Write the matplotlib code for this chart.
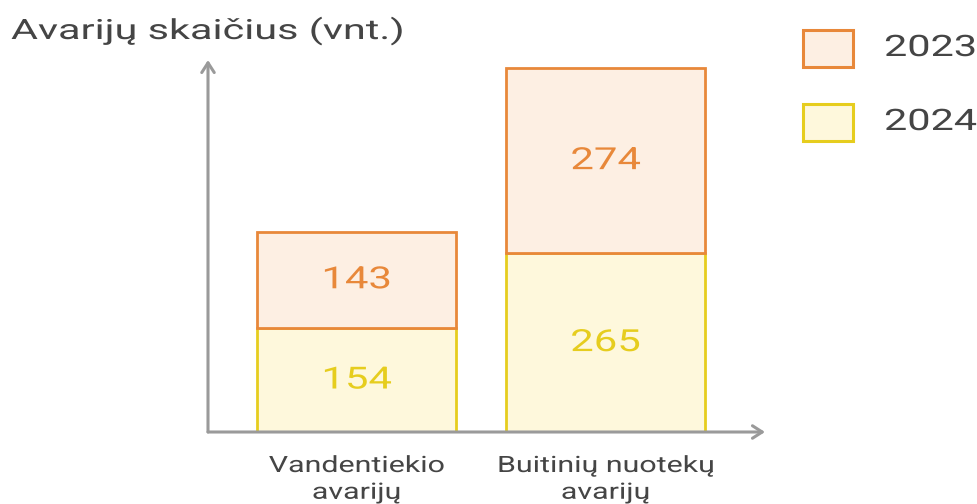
import matplotlib
matplotlib.use("Agg")
import matplotlib.pyplot as plt
from matplotlib.patches import Rectangle
from matplotlib.patheffects import AbstractPathEffect
from matplotlib.transforms import Affine2D

plt.rcParams['font.family'] = ['Roboto', 'DejaVu Sans']

categories = ["Vandentiekio\navarijų", "Buitinių nuotekų\navarijų"]
series_names = ["2023", "2024"]
values_2024 = [154, 265]
values_2023 = [143, 274]

orange_edge = "#E8883A"
orange_fill = "#FDEFE3"
yellow_edge = "#E6CD1E"
yellow_fill = "#FEF8DC"
text_col = "#454545"
axis_col = "#9A9A9A"

W, H = 978, 504
fig = plt.figure(figsize=(W / 100, H / 100), dpi=100)


class HStretch(AbstractPathEffect):
    """Horizontally widen rendered glyphs about a display-x anchor."""
    def __init__(self, sx, x0):
        super().__init__()
        self.sx = sx
        self.x0 = x0

    def draw_path(self, renderer, gc, tpath, affine, rgbFace=None):
        t = affine + Affine2D().translate(-self.x0, 0).scale(self.sx, 1).translate(self.x0, 0)
        renderer.draw_path(gc, tpath, t, rgbFace)


def fx(px):
    return px / W


def fy(py):
    return 1 - py / H


# axes: x from 208 to 765 px, y from 432 (baseline) to 60 px
ax = fig.add_axes([fx(208), fy(432), fx(765) - fx(208), fy(60) - fy(432)])
px_per_unit = 0.675
ax.set_ylim(0, (432 - 60) / px_per_unit)
unit_x = 249.0
ax.set_xlim(-(356.5 - 208) / unit_x, 1 + (765 - 605.5) / unit_x)
ax.axis('off')

xs = list(range(len(categories)))
width = 199 / unit_x
lw = 2.0
ax.bar(xs, values_2024, width=width, color=yellow_fill, edgecolor=yellow_edge, linewidth=lw, zorder=2)
ax.bar(xs, values_2023, width=width, bottom=values_2024, color=orange_fill, edgecolor=orange_edge,
       linewidth=lw, zorder=3)

SX_NUM = 1.37
for x, a, b in zip(xs, values_2024, values_2023):
    x0 = ax.transData.transform((x, 0))[0]
    ax.text(x, a / 2, str(a), ha='center', va='center', fontsize=22, color=yellow_edge, zorder=5,
            path_effects=[HStretch(SX_NUM, x0)])
    ax.text(x, a + b / 2, str(b), ha='center', va='center', fontsize=22, color=orange_edge, zorder=5,
            path_effects=[HStretch(SX_NUM, x0)])

# axis arrows
arrowprops = dict(arrowstyle='->,head_length=0.7,head_width=0.45', color=axis_col, lw=2.2,
                  shrinkA=0, shrinkB=0)
ax.annotate('', xy=(0, 1.0), xytext=(0, 0), xycoords='axes fraction', textcoords='axes fraction',
            arrowprops=arrowprops, annotation_clip=False)
ax.annotate('', xy=(1.0, 0), xytext=(0, 0), xycoords='axes fraction', textcoords='axes fraction',
            arrowprops=arrowprops, annotation_clip=False)

# category labels
SX_CAT = 1.35
for x, lab in zip(xs, categories):
    x0 = ax.transData.transform((x, 0))[0]
    ax.text(x, -(456 - 432) / px_per_unit, lab, ha='center', va='top', fontsize=16.2,
            color=text_col, linespacing=1.36, clip_on=False, path_effects=[HStretch(SX_CAT, x0)])

# title
fig.text(fx(11), fy(39), "Avarijų skaičius (vnt.)", ha='left', va='baseline', fontsize=20,
         color=text_col, path_effects=[HStretch(1.49, 11)])

# legend
leg_items = [(series_names[0], orange_fill, orange_edge, 30), (series_names[1], yellow_fill, yellow_edge, 104)]
for name, fc, ec, top in leg_items:
    r = Rectangle((fx(803), fy(top + 37)), fx(50), fy(top) - fy(top + 37), transform=fig.transFigure,
                  facecolor=fc, edgecolor=ec, linewidth=2.2)
    fig.patches.append(r)
    fig.text(fx(884), fy(top + 18), name, ha='left', va='center', fontsize=21.3, color=text_col,
             path_effects=[HStretch(1.4, 884)])

fig.savefig("out.png", dpi=100)
